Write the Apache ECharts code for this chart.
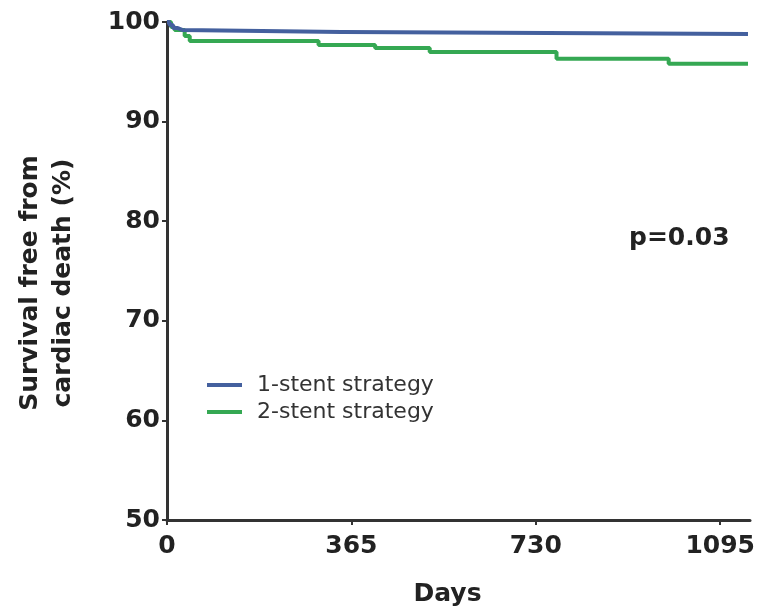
<!DOCTYPE html>
<html>
<head>
<meta charset="utf-8">
<script src="https://cdn.jsdelivr.net/npm/echarts@6/dist/echarts.min.js"></script>
<style>
html,body{margin:0;padding:0;background:#fff;}
#chart{width:758px;height:614px;}
</style>
</head>
<body>
<div id="chart"></div>
<script>
// Kaplan-Meier step points: [day, survival %]
var oneStent = [[0,100],[5,99.7],[12,99.4],[20,99.2],[30,99.0],[345,99.0],[352,98.8],[1150,98.8]];
var twoStent = [[0,100],[8,99.5],[15,99.2],[35,98.6],[45,98.1],[300,97.7],[412,97.4],[520,97.0],[771,96.3],[993,95.8],[1150,95.8]];
var xTicks = [0,365,730,1095];
var yTicks = [50,60,70,80,90,100];
var seriesNames = ['1-stent strategy','2-stent strategy'];
var pText = 'p=0.03';

var chart = echarts.init(document.getElementById('chart'));
var axisColor = '#333';
var font = 'DejaVu Sans, sans-serif';
chart.setOption({
  animation:false,
  backgroundColor:'#fff',
  grid:{left:167,right:3,top:22,bottom:94,containLabel:false},
  xAxis:{
    type:'value',min:0,max:1154,
    name:'Days',nameLocation:'middle',nameGap:62,
    nameTextStyle:{fontFamily:font,fontSize:25,fontWeight:'bold',color:'#222',padding:[0,22,0,0]},
    axisLine:{lineStyle:{color:axisColor,width:3}},
    axisTick:{show:true,customValues:xTicks,length:5,lineStyle:{color:axisColor,width:2}},
    axisLabel:{customValues:xTicks,formatter:function(v){return String(v);},fontFamily:font,fontSize:25,fontWeight:'bold',color:'#222',margin:14},
    splitLine:{show:false}
  },
  yAxis:{
    type:'value',min:50,max:100,interval:10,
    name:'Survival free from\ncardiac death (%)',nameLocation:'middle',nameGap:87,nameRotate:90,
    nameTextStyle:{fontFamily:font,fontSize:25,fontWeight:'bold',color:'#222',lineHeight:33,padding:[0,24,0,0]},
    axisLine:{lineStyle:{color:axisColor,width:3}},
    axisTick:{show:true,length:5,lineStyle:{color:axisColor,width:2}},
    axisLabel:{customValues:yTicks,fontFamily:font,fontSize:25,fontWeight:'bold',color:'#222',margin:7},
    splitLine:{show:false}
  },
  legend:{
    orient:'vertical',left:202,top:369,
    itemWidth:35,itemHeight:4,itemGap:5,icon:'rect',
    textStyle:{fontFamily:font,fontSize:22,color:'#333',padding:[0,0,0,10]},
    data:seriesNames
  },
  graphic:[{
    type:'text',left:629,top:226,
    style:{text:pText,fontFamily:font,fontSize:25,fontWeight:'bold',fill:'#222'}
  }],
  series:[
    {name:seriesNames[0],type:'line',step:'end',data:oneStent,showSymbol:false,
     lineStyle:{color:'#44609e',width:4},itemStyle:{color:'#44609e'},z:3},
    {name:seriesNames[1],type:'line',step:'end',data:twoStent,showSymbol:false,
     lineStyle:{color:'#35a853',width:4},itemStyle:{color:'#35a853'},z:2}
  ]
});
</script>
</body>
</html>
